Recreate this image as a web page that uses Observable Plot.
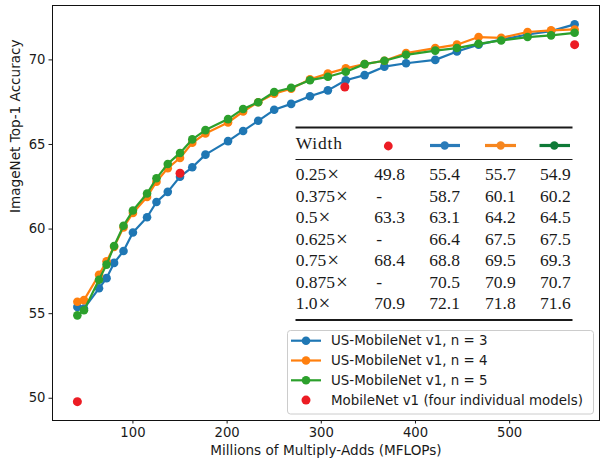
<!DOCTYPE html>
<html><head><meta charset="utf-8">
<script src="https://cdn.jsdelivr.net/npm/d3@7"></script>
<script src="https://cdn.jsdelivr.net/npm/@observablehq/plot@0.6"></script>
<style>body{margin:0;background:#fff} svg{display:block}</style>
</head><body><div id="chart"></div>
<script>
// ---- data ----
const mflops = [41,48,64,72,80,90,100,115,125,137,150,163,177,201,217,233,250,268,288,307,326,346,367,390,421,444,467,491,519,544,569];
const accN3 = [55.4,55.3,56.5,57.1,58.0,58.7,59.8,60.7,61.6,62.2,63.1,63.65,64.4,65.2,65.8,66.4,67.05,67.4,67.85,68.2,68.8,69.1,69.6,69.8,70.0,70.5,70.9,71.2,71.5,71.7,72.1];
const accN4 = [55.7,55.8,57.3,58.1,58.95,60.1,60.95,61.9,62.8,63.6,64.2,65.1,65.65,66.3,66.95,67.5,68.0,68.3,68.85,69.2,69.5,69.75,69.95,70.4,70.7,70.9,71.35,71.3,71.65,71.75,71.8];
const accN5 = [54.9,55.2,57.0,57.9,59.0,60.2,61.1,62.1,63.0,63.85,64.5,65.3,65.85,66.5,67.1,67.5,68.1,68.35,68.8,69.0,69.3,69.75,69.95,70.3,70.55,70.7,70.95,71.15,71.35,71.45,71.6];
const mobilenetMflops = [41,150,325,569];
const mobilenetAcc = [49.8,63.3,68.4,70.9];
const xTicks = [100,200,300,400,500];
const yTicks = [50,55,60,65,70];
const xLabel = "Millions of Multiply-Adds (MFLOPs)";
const yLabel = "ImageNet Top-1 Accuracy";
const seriesNames = ["US-MobileNet v1, n = 3","US-MobileNet v1, n = 4","US-MobileNet v1, n = 5"];
const individualName = "MobileNet v1 (four individual models)";
const tableHeader = "Width";
const tableWidths = ["0.25×","0.375×","0.5×","0.625×","0.75×","0.875×","1.0×"];
const tableMobileNet = ["49.8","-","63.3","-","68.4","-","70.9"];
const tableN3 = ["55.4","58.7","63.1","66.4","68.8","70.5","72.1"];
const tableN4 = ["55.7","60.1","64.2","67.5","69.5","70.9","71.8"];
const tableN5 = ["54.9","60.2","64.5","67.5","69.3","70.7","71.6"];

// ---- styles ----
const seriesColors = ["#1f77b4","#ff7f0e","#2ca02c"];
const redColor = "#ec1c24";
const headerColors = [redColor,"#2a7bb9","#f6861f","#0e7a37"];

const seriesData = [accN3, accN4, accN5].map(acc => mflops.map((x, i) => ({x, y: acc[i]})));
const redData = mobilenetMflops.map((x, i) => ({x, y: mobilenetAcc[i]}));

const seriesMarks = seriesData.flatMap((d, k) => [
  Plot.line(d, {x: "x", y: "y", stroke: seriesColors[k], strokeWidth: 2.2}),
  Plot.dot(d, {x: "x", y: "y", fill: seriesColors[k], r: 4.3, stroke: "none"})
]);

const chart = Plot.plot({
  width: 609, height: 466,
  marginLeft: 52, marginRight: 10, marginTop: 5, marginBottom: 46,
  style: {fontFamily: "DejaVu Sans", fontSize: "13px", color: "#1a1a1a", background: "white", overflow: "visible"},
  x: {domain: [14.6, 595.4]},
  y: {domain: [48.685, 73.215]},
  marks: [
    ...seriesMarks,
    Plot.dot(redData, {x: "x", y: "y", fill: redColor, r: 4.5, stroke: "none"}),
    Plot.frame({stroke: "#111", strokeWidth: 1}),
    Plot.axisX({ticks: xTicks, tickSize: 3.5, tickPadding: 3.5, label: null, fontSize: 13.2}),
    Plot.axisY({ticks: yTicks, tickSize: 3.5, tickPadding: 3.5, label: null, fontSize: 13.2}),
    Plot.text([xLabel], {frameAnchor: "bottom", dy: 34, text: d => d, fontSize: 13.6}),
    Plot.text([yLabel], {frameAnchor: "left", dx: -37, rotate: -90, text: d => d, fontSize: 13.6})
  ]
});
document.getElementById("chart").appendChild(chart);

// ---- inset table ----
const svg = d3.select(chart);
const tbl = svg.append("g").attr("font-family", "'Liberation Serif', serif").attr("font-size", 17.5)
  .attr("fill", "#1a1a1a").attr("text-anchor", "start");
const tx0 = 295.5, tx1 = 572.5;
const colX = [295.7, 374.3, 429.3, 485, 540];
tbl.append("line").attr("x1", tx0).attr("x2", tx1).attr("y1", 127.5).attr("y2", 127.5).attr("stroke", "#1a1a1a").attr("stroke-width", 2);
tbl.append("line").attr("x1", tx0).attr("x2", tx1).attr("y1", 159.5).attr("y2", 159.5).attr("stroke", "#1a1a1a").attr("stroke-width", 1);
tbl.append("line").attr("x1", tx0).attr("x2", tx1).attr("y1", 320).attr("y2", 320).attr("stroke", "#1a1a1a").attr("stroke-width", 2);
tbl.append("text").attr("x", colX[0]).attr("y", 143).attr("dominant-baseline", "central")
  .attr("letter-spacing", 0.8).text(tableHeader);
// header glyphs
tbl.append("circle").attr("cx", 388.3).attr("cy", 146).attr("r", 4.4).attr("fill", headerColors[0]);
[[430, 460, 444.7], [485, 516, 500.7], [539.5, 570, 554.3]].forEach(([a, b, c], k) => {
  tbl.append("line").attr("x1", a).attr("x2", b).attr("y1", 145.5).attr("y2", 145.5).attr("stroke", headerColors[k + 1]).attr("stroke-width", 3.2);
  tbl.append("circle").attr("cx", c).attr("cy", 145.5).attr("r", 4.2).attr("fill", headerColors[k + 1]);
});
const cols = [tableWidths, tableMobileNet, tableN3, tableN4, tableN5];
tableWidths.forEach((_, i) => {
  const y = 174 + i * 21.55;
  cols.forEach((col, c) => {
    const t = tbl.append("text").attr("x", colX[c] + (col[i] === "-" ? 2 : 0)).attr("y", y).attr("dominant-baseline", "central");
    if (c === 0) {
      const s = col[i];
      t.append("tspan").text(s.slice(0, -1));
      t.append("tspan").attr("font-size", 21).attr("dx", 1).text(s.slice(-1));
    } else {
      t.text(col[i]);
    }
  });
});

// ---- legend ----
const lg = svg.append("g").attr("font-family", "'DejaVu Sans', sans-serif").attr("font-size", 13.4)
  .attr("fill", "#1a1a1a").attr("text-anchor", "start");
lg.append("rect").attr("x", 287.5).attr("y", 330.5).attr("width", 306).attr("height", 83.5).attr("rx", 3)
  .attr("fill", "white").attr("fill-opacity", 0.8).attr("stroke", "#cccccc").attr("stroke-width", 1);
const rowsY = [340.7, 360.5, 380.3, 400.1];
seriesNames.forEach((name, k) => {
  lg.append("line").attr("x1", 291).attr("x2", 321).attr("y1", rowsY[k]).attr("y2", rowsY[k]).attr("stroke", seriesColors[k]).attr("stroke-width", 2.2);
  lg.append("circle").attr("cx", 306).attr("cy", rowsY[k]).attr("r", 4.3).attr("fill", seriesColors[k]);
  lg.append("text").attr("x", 331).attr("y", rowsY[k]).attr("dominant-baseline", "central").text(name);
});
lg.append("circle").attr("cx", 306).attr("cy", rowsY[3]).attr("r", 4.5).attr("fill", redColor);
lg.append("text").attr("x", 331).attr("y", rowsY[3]).attr("dominant-baseline", "central").text(individualName);
</script></body></html>
